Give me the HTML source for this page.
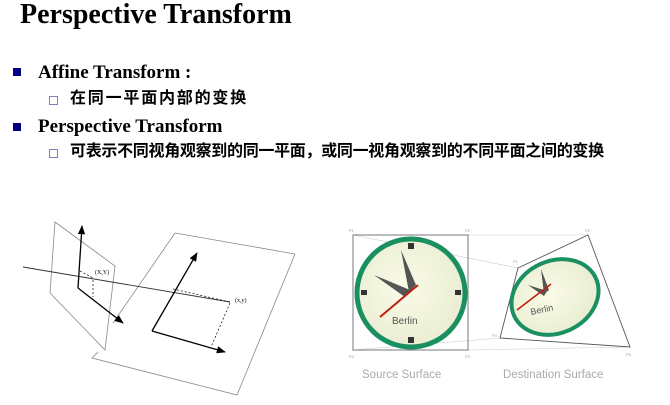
<!DOCTYPE html>
<html><head><meta charset="utf-8"><style>
body{margin:0;width:670px;height:405px;background:#fff;position:relative;overflow:hidden;font-family:"Liberation Serif","Noto Serif CJK SC",serif}
.t{position:absolute;white-space:nowrap;font-weight:bold;color:#000}
.sq{position:absolute;width:8px;height:8px;background:#000080}
.hs{position:absolute;width:7px;height:7px;border:1px solid #8080c0}
</style></head><body>
<div class="t" style="left:20px;top:-1px;font-size:28px;line-height:32px">Perspective Transform</div>
<div class="sq" style="left:13px;top:68px"></div>
<div class="t" style="left:38px;top:61px;font-size:19px;line-height:24px">Affine Transform :</div>
<div class="hs" style="left:49px;top:96px"></div>
<div class="t" style="left:70px;top:89px;font-size:16px;line-height:20px;letter-spacing:1.8px;font-family:'Liberation Serif','Noto Sans CJK SC',sans-serif">在同一平面内部的变换</div>
<div class="sq" style="left:13px;top:123px"></div>
<div class="t" style="left:38px;top:115px;font-size:19px;line-height:24px">Perspective Transform</div>
<div class="hs" style="left:49px;top:149px"></div>
<div class="t" style="left:70px;top:142px;font-size:16px;line-height:20px;letter-spacing:-0.3px;font-family:'Liberation Serif','Noto Sans CJK SC',sans-serif">可表示不同视角观察到的同一平面，或同一视角观察到的不同平面之间的变换</div>

<svg width="670" height="405" style="position:absolute;left:0;top:0">
<defs>
<marker id="a" viewBox="0 0 10 10" refX="9" refY="5" markerWidth="7" markerHeight="7" orient="auto"><path d="M0,1 L10,5 L0,9 z" fill="#000"/></marker>
<radialGradient id="face" cx="0.45" cy="0.45" r="0.6"><stop offset="0" stop-color="#fbfbe8"/><stop offset="1" stop-color="#e8ecd0"/></radialGradient>
</defs>
<g fill="none" stroke="#888" stroke-width="0.8">
<polyline points="175,233 295,254 237,395 92,358 98,352"/>
<line x1="175" y1="233" x2="113" y2="323"/>
<polygon points="55,222 115,266 105,350 50,293"/>
</g>
<line x1="23" y1="267" x2="230" y2="302" stroke="#333" stroke-width="0.9"/>
<g stroke="#000" stroke-width="1.3" fill="none">
<line x1="78" y1="288" x2="82" y2="226" marker-end="url(#a)"/>
<line x1="78" y1="288" x2="123" y2="323" marker-end="url(#a)"/>
<line x1="152" y1="331" x2="197" y2="253" marker-end="url(#a)"/>
<line x1="152" y1="331" x2="225" y2="352" marker-end="url(#a)"/>
</g>
<g stroke="#000" stroke-width="0.7" stroke-dasharray="2,2" fill="none">
<line x1="80" y1="271" x2="93" y2="278"/><line x1="93" y1="280" x2="93" y2="297"/>
<line x1="173" y1="289" x2="230" y2="302"/><line x1="230" y1="303" x2="211" y2="347"/>
</g>
<text x="95" y="274" font-size="6" font-family="Liberation Serif">(X,Y)</text>
<text x="235" y="302" font-size="6" font-family="Liberation Serif">(x,y)</text>

<g stroke="#ccc" stroke-width="0.6"><line x1="353" y1="235" x2="518" y2="268"/><line x1="468" y1="235" x2="588" y2="235"/><line x1="468" y1="350" x2="630" y2="347"/><line x1="353" y1="350" x2="500" y2="338"/></g>
<rect x="353" y="235" width="115" height="115" fill="none" stroke="#777" stroke-width="1"/>
<circle cx="411" cy="293" r="54" fill="url(#face)" stroke="#1a9060" stroke-width="5"/>
<g fill="#333"><rect x="408" y="243" width="6" height="6"/><rect x="408" y="337" width="6" height="6"/><rect x="361" y="290" width="6" height="5"/><rect x="455" y="290" width="6" height="5"/></g>
<polygon points="401,250 416,285 409,292" fill="#555"/>
<polygon points="374,275 410,290 405,297" fill="#555"/>
<line x1="380" y1="317" x2="418" y2="285" stroke="#c02010" stroke-width="2"/>
<text x="392" y="324" font-size="10" fill="#555" font-family="Liberation Sans">Berlin</text>
<polygon points="518,268 588,235 630,347 500,338" fill="none" stroke="#555" stroke-width="0.9"/>
<ellipse cx="555" cy="297" rx="45" ry="36" transform="rotate(-25 555 297)" fill="url(#face)" stroke="#1a9060" stroke-width="4"/>
<polygon points="541,269 549,290 544,294" fill="#555"/>
<polygon points="528,285 547,291 544,296" fill="#555"/>
<line x1="517" y1="310" x2="551" y2="284" stroke="#c02010" stroke-width="1.6"/>
<text x="530" y="312" font-size="9" fill="#555" font-family="Liberation Sans" transform="rotate(-12 545 308)">Berlin</text>
<g font-size="4" fill="#999" font-family="Liberation Sans"><text x="349" y="232">P1</text><text x="465" y="232">P2</text><text x="349" y="358">P4</text><text x="465" y="358">P3</text><text x="513" y="263">P1</text><text x="585" y="232">P2</text><text x="626" y="356">P3</text><text x="492" y="337">P4</text></g>
<text x="362" y="378" font-size="11.5" fill="#aaa" font-family="Liberation Sans">Source Surface</text>
<text x="503" y="378" font-size="11.5" fill="#aaa" font-family="Liberation Sans">Destination Surface</text>
</svg>
</body></html>
